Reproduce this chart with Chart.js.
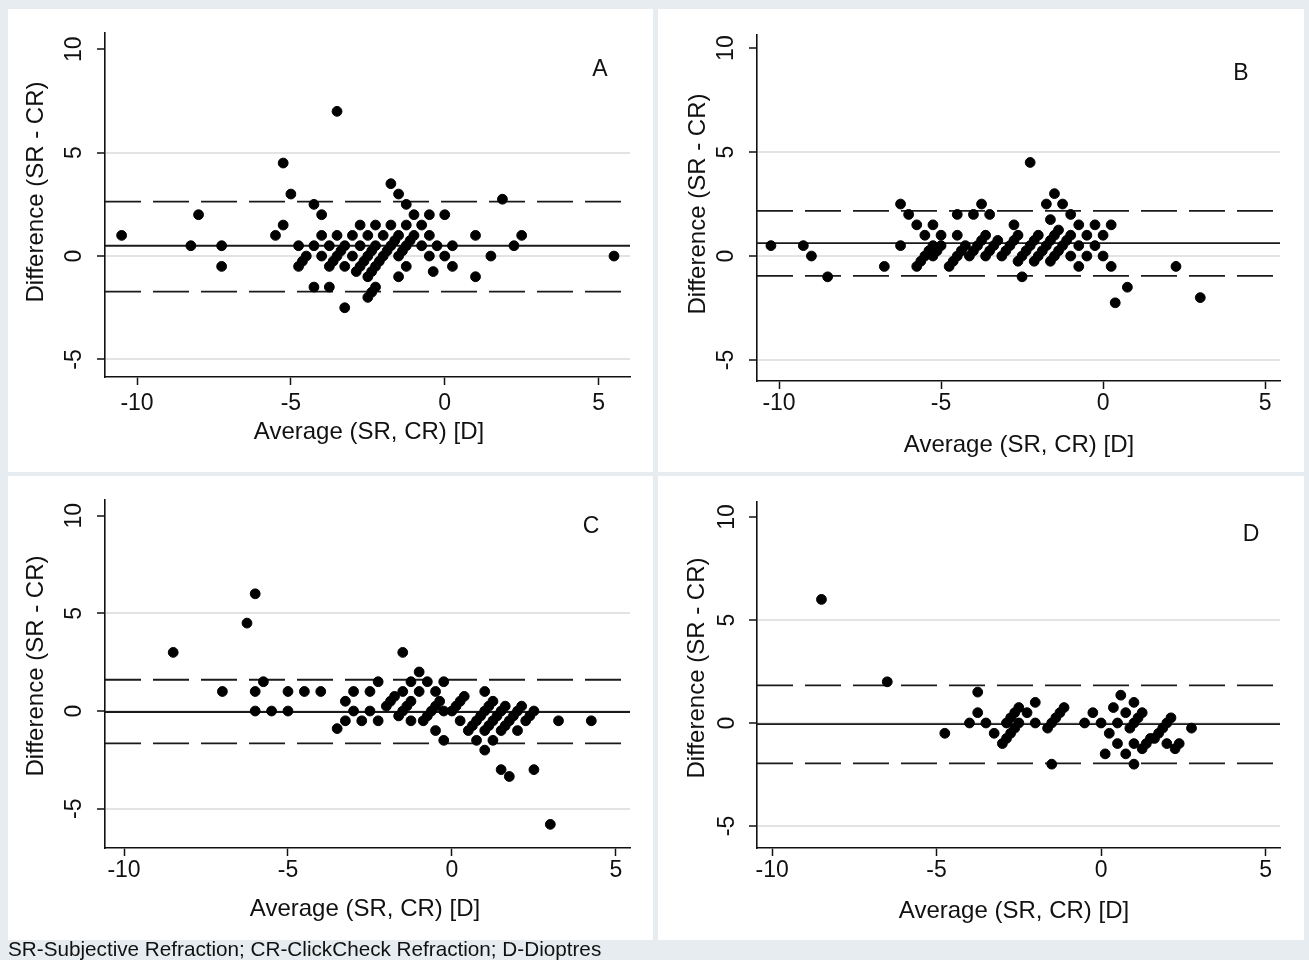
<!DOCTYPE html>
<html>
<head>
<meta charset="utf-8">
<script src="https://cdn.jsdelivr.net/npm/chart.js@4.4.0/dist/chart.umd.min.js"></script>
<style>
  html, body { margin: 0; padding: 0; background: #e6ecef; }
  body { width: 1309px; height: 960px; position: relative; overflow: hidden; font-family: "Liberation Sans", Arial, sans-serif; }
  .panel { position: absolute; background: #fff; }
  .panel canvas { position: absolute; left: 0; top: 0; }
  #note { position: absolute; left: 8px; top: 937px; font-size: 20.7px; color: #111; white-space: nowrap; }
</style>
</head>
<body>
<div class="panel" id="pA"><canvas id="cA"></canvas></div>
<div class="panel" id="pB"><canvas id="cB"></canvas></div>
<div class="panel" id="pC"><canvas id="cC"></canvas></div>
<div class="panel" id="pD"><canvas id="cD"></canvas></div>
<div id="note">SR-Subjective Refraction; CR-ClickCheck Refraction; D-Dioptres</div>
<script>
// tick labels shared by all four panels
const xTicks = [-10, -5, 0, 5];
const yTicks = [-5, 0, 5, 10];

// panel A: average (SR, CR) and difference (SR - CR)
const avgA = [-10.5, -8.25, -8, -7.25, -7.25, -5.5, -5.25, -5.25, -5, -4.75, -4.75, -4.625, -4.5,
  -4.25, -4.25, -4.25, -4, -4, -4, -3.75, -3.75, -3.625, -3.75, -3.5, -3.5, -3.5, -3.375,
  -3.25, -3.25, -3.25, -3, -3, -2.875, -2.75, -2.625, -2.5, -2.375, -2.75, -2.75, -2.5, -2.5,
  -2.375, -2.25, -2.125, -2, -1.875, -1.75, -1.625, -2.25, -2.25, -2.25, -2.375, -2.5,
  -2, -1.75, -1.75, -1.5, -1.5, -1.5, -1.5, -1.375, -1.25, -1.125, -1.25, -1.25, -1.25,
  -1, -1, -0.75, -0.75, -0.5, -0.5, -0.5, -0.375, -0.25, 0, 0, 0.25, 0.25,
  1, 1, 1.5, 1.875, 2.25, 2.5, 5.5];
const diffA = [1, 0.5, 2, 0.5, -0.5, 1, 1.5, 4.5, 3, 0.5, -0.5, -0.25, 0,
  2.5, 0.5, -1.5, 2, 1, 0, 0.5, -0.5, -0.25, -1.5, 7, 1, 0, 0.25,
  0.5, -0.5, -2.5, 1, 0, -0.75, -0.5, -0.25, 0, 0.25, 1.5, 0.5, 1, -1,
  -0.75, -0.5, -0.25, 0, 0.25, 0.5, 0.75, 1.5, 0.5, -1.5, -1.75, -2,
  1, 3.5, 1.5, 3, 1, 0, -1, 0.25, 0.5, 0.75, 2.5, 1.5, -0.5,
  2, 1, 1.5, 0.5, 2, 1, 0, -0.75, 0.5, 2, 0, 0.5, -0.5,
  1, -1, 0, 2.75, 0.5, 1, 0];
const limitsA = [-1.72, 0.5, 2.63]; // lower limit, mean, upper limit

// panel B
const avgB = [-10.25, -9.25, -9, -8.5, -6.75, -6.25, -6.25, -6, -5.75, -5.5, -5.25, -5,
  -5.75, -5.625, -5.5, -5.375, -5.25, -5.25, -5.125, -5,
  -4.75, -4.625, -4.5, -4.375, -4.25, -4.5, -4.5, -4,
  -4.125, -4, -3.875, -3.75, -3.625, -3.75, -3.5,
  -3.625, -3.5, -3.375, -3.25, -3.125, -3, -2.875, -2.75, -2.625, -2.75,
  -2.625, -2.5, -2.375, -2.25, -2.125, -2, -2.5, -2.25,
  -2.125, -2, -1.875, -1.75, -1.625, -1.5, -1.375, -1.625, -1.75, -1.5, -1.25, -1,
  -1.625, -1.5, -1.375, -1.25, -1.125,
  -1, -1, -0.75, -0.75, -0.75, -0.5, -0.5, -0.25, -0.25, 0, 0, 0.25, 0.25,
  0.375, 0.75, 2.25, 3];
const diffB = [0.5, 0.5, 0, -1, -0.5, 2.5, 0.5, 2, 1.5, 1, 1.5, 1,
  -0.5, -0.25, 0, 0.25, 0.5, 0, 0.25, 0.5,
  -0.5, -0.25, 0, 0.25, 0.5, 2, 1, 2,
  0, 0.25, 0.5, 0.75, 1, 2.5, 2,
  0, 0.25, 0.5, 0.75, 0, 0.25, 0.5, 0.75, 1, 1.5,
  -0.25, 0, 0.25, 0.5, 0.75, 1, -1, 4.5,
  -0.25, 0, 0.25, 0.5, 0.75, 1, 1.25, 1.75, 2.5, 3, 2.5, 2,
  -0.25, 0, 0.25, 0.5, 0.75,
  1, 0, 1.5, 0.5, -0.5, 1, 0, 1.5, 0.5, 1, 0, 1.5, -0.5,
  -2.25, -1.5, -0.5, -2];
const limitsB = [-0.95, 0.62, 2.17];

// panel C
const avgC = [-8.5, -7, -6.25, -6, -6, -6, -5.75, -5.5, -5, -5, -4.5, -4,
  -3.5, -3.25, -3.25, -3, -3, -2.75, -2.5, -2.5, -2.25, -2.25,
  -2, -1.875, -1.75, -1.625, -1.5, -1.375, -1.25,
  -1.5, -1.5, -1.25, -1.25, -1, -1, -0.75, -0.5, -0.25,
  -0.875, -0.75, -0.625, -0.5, -0.375, -0.5, -0.25, -0.25,
  0, 0.125, 0.25, 0.375, 0.25,
  0.5, 0.625, 0.75, 0.875, 1, 1.125, 1.25,
  0.75, 1, 1, 1.25, 1, 1.125, 1.25, 1.375, 1.5, 1.625,
  1.5, 1.625, 1.75, 1.875, 2, 2.125,
  2, 2.25, 2.375, 2.5, 1.5, 1.75, 2.5, 3, 3.25, 4.25];
const diffC = [3, 1, 4.5, 6, 1, 0, 1.5, 0, 1, 0, 1, 1,
  -0.9, -0.5, 0.5, 1, 0, -0.5, 1, 0, 1.5, -0.5,
  0.25, 0.5, 0.75, -0.25, 0, 0.25, 0.5,
  3, 1, 1.5, -0.5, 2, 1, 1.5, 1, 1.5,
  -0.5, -0.25, 0, 0.25, 0.5, -1, -1.5, 0,
  0, 0.25, 0.5, 0.75, -0.5,
  -1, -0.75, -0.5, -0.25, 0, 0.25, 0.5,
  -1.5, -2, 1, -1.5, -1, -0.75, -0.5, -0.25, 0, 0.25,
  -1, -0.75, -0.5, -0.25, 0, 0.25,
  -1, -0.5, -0.25, 0, -3, -3.35, -3, -5.8, -0.5, -0.5];
const limitsC = [-1.66, -0.05, 1.6];

// panel D
const avgD = [-8.5, -6.5, -4.75, -4, -3.75, -3.75, -3.5, -3.25,
  -3, -2.875, -2.75, -2.625, -2.875, -2.75, -2.625, -2.5,
  -2.5, -2.25, -2, -2, -1.5,
  -1.625, -1.5, -1.375, -1.25, -1.125,
  -0.5, -0.25, 0, 0.25, 0.5, 0.375, 0.6, 0.75, 1,
  0.5, 1, 0.125, 0.75, 1,
  0.875, 1, 1.125, 1.25,
  1.25, 1.375, 1.5,
  1.625, 1.75, 1.875, 2, 2.125,
  2, 2.25, 2.375, 2.75];
const diffD = [6, 2, -0.5, 0, 1.5, 0.5, 0, -0.5,
  -1, -0.75, -0.5, -0.25, 0, 0.25, 0.5, 0.75,
  0, 0.5, 1, 0, -2,
  -0.25, 0, 0.25, 0.5, 0.75,
  0, 0.5, 0, -0.5, 0, 0.75, 1.35, 0.5, 1,
  -1, -1, -1.5, -1.5, -2,
  -0.25, 0, 0.25, 0.5,
  -1.25, -1, -0.75,
  -0.75, -0.5, -0.25, 0, 0.25,
  -1, -1.25, -1, -0.25];
const limitsD = [-1.96, -0.06, 1.83];

// layout of the four panels (page pixels)
const panels = [
  { key: 'A', avg: avgA, diff: diffA, limits: limitsA,
    box: [8, 9, 653, 472], plot: [105, 33, 630, 377], xr: [-11.04, 6.02], yr: [-5.85, 10.79],
    xTickY: 404, xTitle: [369, 432], yTitle: [36, 192], yTickX: 75, letter: [600, 70] },
  { key: 'B', avg: avgB, diff: diffB, limits: limitsB,
    box: [658, 9, 1304, 472], plot: [757, 35, 1280, 381], xr: [-10.68, 5.46], yr: [-6.01, 10.63],
    xTickY: 404, xTitle: [1019, 445], yTitle: [698, 204], yTickX: 727, letter: [1241, 74] },
  { key: 'C', avg: avgC, diff: diffC, limits: limitsC,
    box: [8, 476, 653, 940], plot: [105, 500, 630, 848], xr: [-10.58, 5.43], yr: [-7.01, 10.8],
    xTickY: 871, xTitle: [365, 909], yTitle: [36, 666], yTickX: 75, letter: [591, 527] },
  { key: 'D', avg: avgD, diff: diffD, limits: limitsD,
    box: [658, 476, 1304, 940], plot: [757, 502, 1280, 848], xr: [-10.46, 5.44], yr: [-6.07, 10.73],
    xTickY: 871, xTitle: [1014, 911], yTitle: [697, 668], yTickX: 728, letter: [1251, 535] }
];

const FONT = '"Liberation Sans", Arial, sans-serif';
const INK = '#111';

// draws tick labels, axis titles and the panel letter
const textPlugin = {
  id: 'panelText',
  afterDraw(chart, args, p) {
    const { ctx, scales: { x, y } } = chart;
    const ox = p.box[0], oy = p.box[1];
    ctx.save();
    ctx.fillStyle = INK;
    ctx.textAlign = 'center';
    ctx.textBaseline = 'middle';
    ctx.font = '23px ' + FONT;
    xTicks.forEach(v => ctx.fillText(String(v), x.getPixelForValue(v), p.xTickY - oy));
    yTicks.forEach(v => {
      ctx.save();
      ctx.translate(p.yTickX - ox, y.getPixelForValue(v));
      ctx.rotate(-Math.PI / 2);
      ctx.fillText(String(v), 0, 0);
      ctx.restore();
    });
    ctx.font = '24px ' + FONT;
    ctx.fillText('Average (SR, CR) [D]', p.xTitle[0] - ox, p.xTitle[1] - oy);
    ctx.save();
    ctx.translate(p.yTitle[0] - ox, p.yTitle[1] - oy);
    ctx.rotate(-Math.PI / 2);
    ctx.fillText('Difference (SR - CR)', 0, 0);
    ctx.restore();
    ctx.font = '23px ' + FONT;
    ctx.fillText(p.key, p.letter[0] - ox, p.letter[1] - oy);
    ctx.restore();
  }
};

panels.forEach(p => {
  const [bl, bt, br, bb] = p.box;
  const [pl, pt, pr, pb] = p.plot;
  const w = br - bl, h = bb - bt;
  const div = document.getElementById('p' + p.key);
  Object.assign(div.style, { left: bl + 'px', top: bt + 'px', width: w + 'px', height: h + 'px' });
  const canvas = document.getElementById('c' + p.key);
  canvas.width = w; canvas.height = h;
  canvas.style.width = w + 'px'; canvas.style.height = h + 'px';

  const points = p.avg.map((a, i) => ({ x: a, y: p.diff[i] }));
  const limitLine = (v, dashed) => ({
    type: 'line',
    data: [{ x: p.xr[0], y: v }, { x: p.xr[1], y: v }],
    borderColor: '#1a1a1a',
    borderWidth: 1.8,
    borderDash: dashed ? [36, 12] : [],
    pointRadius: 0,
    order: 2
  });

  new Chart(canvas, {
    type: 'scatter',
    data: {
      datasets: [
        { data: points, backgroundColor: '#000', borderColor: '#000', pointRadius: 4.9, pointHoverRadius: 4.9, order: 1 },
        limitLine(p.limits[0], true),
        limitLine(p.limits[1], false),
        limitLine(p.limits[2], true)
      ]
    },
    options: {
      responsive: false,
      animation: false,
      events: [],
      layout: { padding: { left: pl - bl - 10, top: pt - bt, right: br - pr, bottom: bb - pb - 10 } },
      plugins: { legend: { display: false }, tooltip: { enabled: false }, panelText: p },
      scales: {
        x: {
          type: 'linear', min: p.xr[0], max: p.xr[1],
          afterBuildTicks: s => { s.ticks = xTicks.map(v => ({ value: v })); },
          afterFit: s => { s.height = 10; },
          ticks: { display: false },
          grid: { color: 'rgba(0,0,0,0)', tickColor: '#111', tickLength: 8, tickWidth: 1.5, drawTicks: true },
          border: { display: true, color: '#111', width: 1.6 }
        },
        y: {
          type: 'linear', min: p.yr[0], max: p.yr[1],
          afterBuildTicks: s => { s.ticks = yTicks.map(v => ({ value: v })); },
          afterFit: s => { s.width = 10; },
          ticks: { display: false },
          grid: {
            color: c => (c.tick && c.tick.value === 10) ? 'rgba(0,0,0,0)' : '#e3e3e3',
            lineWidth: 2, tickColor: '#111', tickLength: 8, tickWidth: 1.5, drawTicks: true
          },
          border: { display: true, color: '#111', width: 1.6 }
        }
      }
    },
    plugins: [textPlugin]
  });
});
</script>
</body>
</html>
